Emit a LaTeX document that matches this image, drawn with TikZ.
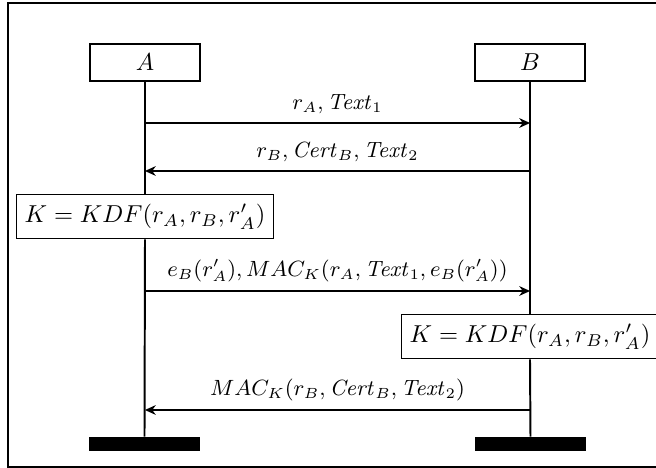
\documentclass[tikz,border=0pt]{standalone}
\usepackage{amssymb}
\usepackage{tikz}
\usetikzlibrary{arrows.meta,positioning}
\tikzset{party/.style={draw, semithick, minimum width=44.9pt, minimum height=15pt}}
\tikzset{keybox/.style={draw, semithick, fill=white, minimum height=18pt}}
\tikzset{endbar/.style={fill=black, inner sep=0pt, minimum width=45.3pt, minimum height=5.7pt}}
\tikzset{msg/.style={line width=0.5pt, -{Stealth[length=4.4pt,width=4pt]}}}
\tikzset{msglabel/.style={above, font=\small}}

\begin{document}
\begin{tikzpicture}[scale=0.1435]
	\useasboundingbox (0,0) rectangle (65.6,-46.8);
	\draw [semithick] (0.8,-0.3) rectangle (66.5,-46.7);
	% parties
	\node[party] (A) at (14.5,-6.25) {$A$};
	\node[party] (B) at (53.0,-6.25) {$B$};
	\node[keybox] (kA) at (14.5,-21.65) {$K = KDF(r_A, r_B, r'_A)$};
	\node[keybox] (kB) at (53.0,-33.65) {$K = KDF(r_A, r_B, r'_A)$};
	\node[endbar] (endA) at (14.45,-44.4) {};
	\node[endbar] (endB) at (53.05,-44.4) {};
	% lifelines
	\draw [thick] (A.south) -- (kA.north);
	\draw [thick] (kA.south) -- (endA.north);
	\draw [thick] (B.south) -- (kB.north);
	\draw [thick] (kB.south) -- (endB.north);
	% messages
	\coordinate (a1) at (14.5,-12.3);
	\coordinate (b1) at (53.0,-12.3);
	\coordinate (a2) at (14.5,-17.1);
	\coordinate (b2) at (53.0,-17.1);
	\coordinate (a3) at (14.5,-29.1);
	\coordinate (b3) at (53.0,-29.1);
	\coordinate (a4) at (14.5,-41.0);
	\coordinate (b4) at (53.0,-41.0);
	\draw [msg] (a1) -- node[msglabel] {$r_A, \mathit{Text}_1$} (b1);
	\draw [msg] (b2) -- node[msglabel] {$r_B, \mathit{Cert}_B, \mathit{Text}_2$} (a2);
	\draw [msg] (a3) -- node[msglabel] {$e_B(r'_A), MAC_K(r_A, \mathit{Text}_1, e_B(r'_A))$} (b3);
	\draw [msg] (b4) -- node[msglabel] {$MAC_K(r_B, \mathit{Cert}_B, \mathit{Text}_2)$} (a4);
\end{tikzpicture}
\end{document}
